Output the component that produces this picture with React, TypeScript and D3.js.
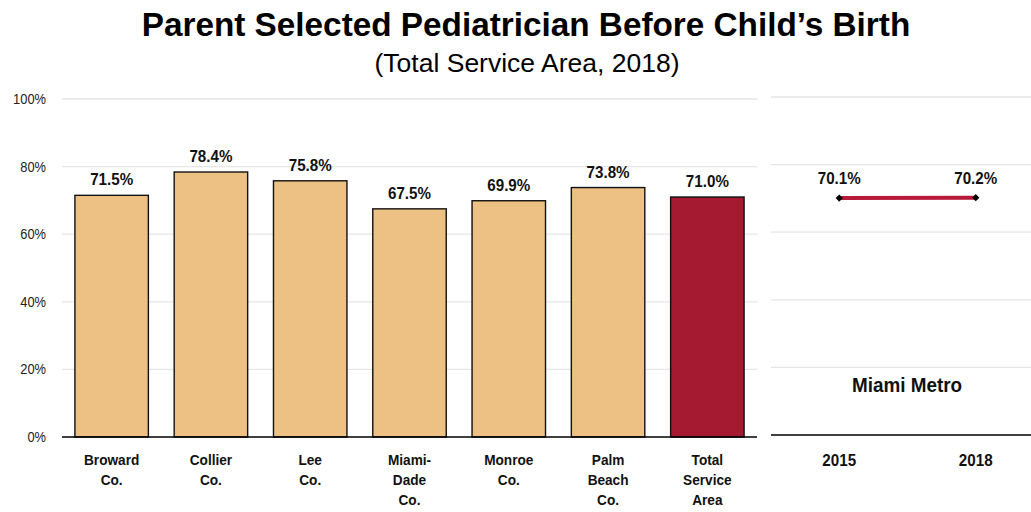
import React from "react";
import * as d3 from "d3";

const categories = [["Broward", "Co."], ["Collier", "Co."], ["Lee", "Co."], ["Miami-", "Dade", "Co."], ["Monroe", "Co."], ["Palm", "Beach", "Co."], ["Total", "Service", "Area"]];
const values = [71.5, 78.4, 75.8, 67.5, 69.9, 73.8, 71.0];
const highlight = [false, false, false, false, false, false, true];
const yTicks = [0, 20, 40, 60, 80, 100];
const years = ["2015", "2018"];
const metroValues = [70.1, 70.2];
const metroLabel = "Miami Metro";
const title = "Parent Selected Pediatrician Before Child\u2019s Birth";
const subtitle = "(Total Service Area, 2018)";

const W = 1031, H = 512;
const FONT = "'Liberation Sans', Arial, sans-serif";
const TAN = "#ECC183";
const RED = "#A51931";
const LINE = "#B8183A";

function Narrow({ x, y, size, children, sx = 0.88 }: { x: number; y: number; size: number; children: React.ReactNode; sx?: number }) {
  return (
    <text transform={`translate(${x},${y}) scale(${sx},1)`} textAnchor="middle" fontSize={size} fontWeight="bold" fill="#111">{children}</text>
  );
}

export default function App() {
  const x = d3.scaleBand().domain(categories.map((_, i) => String(i))).range([62, 757]).paddingInner(0.26).paddingOuter(0.13);
  const y = d3.scaleLinear().domain([0, 100]).range([437, 99]);
  const x2 = d3.scalePoint().domain(years).range([771, 1044]).padding(0.5);
  const y2 = d3.scaleLinear().domain([0, 100]).range([435, 97]);
  const line = d3.line<number>().x((_, i) => x2(years[i])!).y(d => y2(d));
  const diamond = d3.symbol().type(d3.symbolSquare).size(26)()!;

  return (
    <svg width={W} height={H} style={{ position: "absolute", left: 0, top: 0, background: "#fff" }} fontFamily={FONT}>
      <text x={526} y={36} textAnchor="middle" fontSize={33.3} fontWeight="bold" fill="#000">{title}</text>
      <text x={527} y={72} textAnchor="middle" fontSize={26.5} fill="#000">{subtitle}</text>

      {/* left panel */}
      {yTicks.map(t => (
        <g key={t}>
          {t > 0 && <line x1={62} x2={757} y1={y(t)} y2={y(t)} stroke="#e6e6e6" strokeWidth={1.3} />}
          <text transform={`translate(46,${y(t)}) scale(0.92,1)`} dy="0.35em" textAnchor="end" fontSize={14} fill="#222">{t}%</text>
        </g>
      ))}
      {values.map((v, i) => {
        const bx = x(String(i))!;
        const cx = bx + x.bandwidth() / 2;
        return (
          <g key={i}>
            <rect x={bx} y={y(v)} width={x.bandwidth()} height={y(0) - y(v)} fill={highlight[i] ? RED : TAN} stroke="#111" strokeWidth={1.4} />
            <Narrow x={cx} y={y(v) - 10} size={16.5} sx={0.92}>{v.toFixed(1)}%</Narrow>
            {categories[i].map((s, j) => (
              <Narrow key={j} x={cx} y={465 + j * 20} size={15.5}>{s}</Narrow>
            ))}
          </g>
        );
      })}
      <line x1={62} x2={757} y1={y(0)} y2={y(0)} stroke="#000" strokeWidth={1.5} />

      {/* right panel */}
      {yTicks.filter(t => t > 0).map(t => (
        <line key={t} x1={771} x2={W} y1={y2(t)} y2={y2(t)} stroke="#e6e6e6" strokeWidth={1.3} />
      ))}
      <line x1={771} x2={W} y1={y2(0)} y2={y2(0)} stroke="#000" strokeWidth={1.5} />
      <path d={line(metroValues)!} fill="none" stroke={LINE} strokeWidth={4} />
      {metroValues.map((v, i) => (
        <g key={i}>
          <path d={diamond} transform={`translate(${x2(years[i])},${y2(v)}) rotate(45)`} fill="#000" />
          <Narrow x={x2(years[i])!} y={y2(v) - 14} size={16.5} sx={0.92}>{v.toFixed(1)}%</Narrow>
          <Narrow x={x2(years[i])!} y={466} size={16.5} sx={0.92}>{years[i]}</Narrow>
        </g>
      ))}
      <Narrow x={907} y={392} size={21} sx={0.9}>{metroLabel}</Narrow>
    </svg>
  );
}
